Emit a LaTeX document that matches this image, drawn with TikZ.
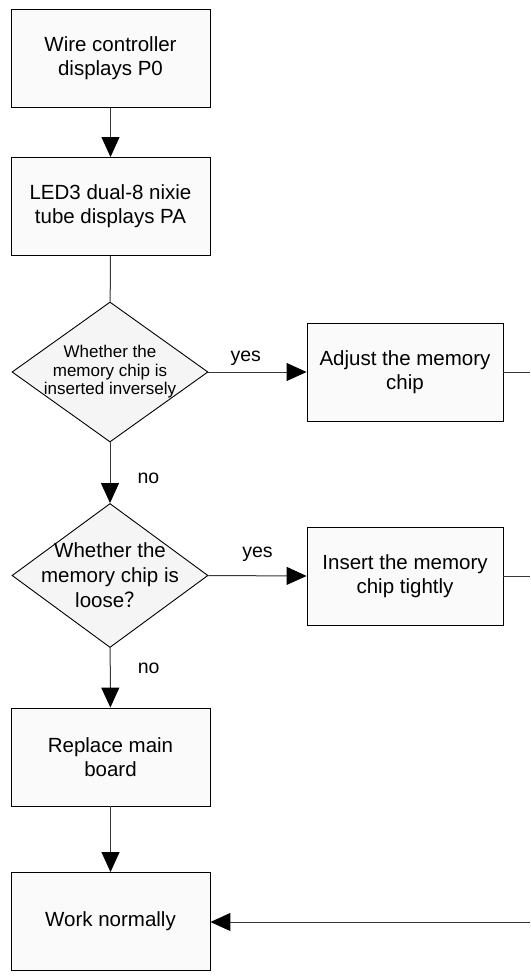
\documentclass[tikz,border=0pt]{standalone}
\usepackage{fontspec}
\setmainfont{Liberation Sans}
\newfontfamily\cjk{Noto Sans CJK SC}
\usetikzlibrary{arrows.meta, shapes.geometric, positioning}
\definecolor{boxfill}{RGB}{250,250,250}
\definecolor{diafill}{RGB}{245,245,245}
\definecolor{linegray}{RGB}{55,55,55}

\begin{document}
\begin{tikzpicture}[x=1pt, y=-1pt,
  stepbox/.style={rectangle, draw=black, fill=boxfill, line width=0.9pt,
                  minimum width=199pt, minimum height=98pt, inner sep=0pt,
                  align=center, font=\fontsize{20.5}{24}\selectfont},
  sidebox/.style={stepbox, minimum width=196pt},
  decision/.style={diamond, draw=black, fill=diafill, line width=0.9pt,
                   minimum width=196pt, minimum height=#1, inner sep=0pt},
  dtext/.style={align=center, inner sep=0pt},
  arr/.style={-{Triangle[length=20pt, width=18pt, color=black]}, line width=1pt, draw=linegray},
  ln/.style={line width=1pt, draw=linegray},
  lbl/.style={font=\fontsize{19.5}{22}\selectfont, inner sep=0pt}
]
\useasboundingbox (0,0) rectangle (530,979);

% ---- main column ----
\node[stepbox] (wire) at (110.5, 58.5) {Wire controller\\displays P0};
\node[stepbox] (led)  at (110.5, 206.5) {LED3 dual-8 nixie\\tube displays PA};
\node[decision=140pt] (inv) at (110, 372) {};
\node[dtext, font=\fontsize{17}{18.5}\selectfont] (invtxt) at (inv)
  {Whether the\\memory chip is\\inserted inversely};
\node[decision=144pt] (loose) at (110, 575.5) {};
\node[dtext, font=\fontsize{20.5}{25}\selectfont] (loosetxt) at (loose)
  {Whether the\\memory chip is\\loose{\cjk ？}};
\node[stepbox] (repl) at (110.5, 757) {Replace main\\board};
\node[stepbox] (work) at (110.5, 921.5) {Work normally};

% ---- right column ----
\node[sidebox] (adjust) at (405, 372) {Adjust the memory\\chip};
\node[sidebox] (insert) at (405, 576) {Insert the memory\\chip tightly};

% ---- loose ends at the right edge ----
\coordinate (adjout) at (530, 372);
\coordinate (insout) at (530, 576);
\coordinate (back)   at (530, 922);

% ---- connectors ----
\draw[arr] (wire) -- (led);
\draw[ln]  (led) -- (inv);
\draw[arr] (inv.east) -- (adjust.west) node[lbl, pos=0.38, above=6pt] (yes1) {yes};
\draw[arr] (inv) -- (loose) node[lbl, pos=0.6, right=27pt] (no1) {no};
\draw[arr] (loose.east) -- (insert.west) node[lbl, pos=0.5, above=14pt] (yes2) {yes};
\draw[arr] (loose) -- (repl) node[lbl, pos=0.35, right=27pt] (no2) {no};
\draw[arr] (repl) -- (work);
\draw[ln]  (adjust) -- (adjout);
\draw[ln]  (insert) -- (insout);
\draw[arr] (back) -- (work.east |- back);

\end{tikzpicture}
\end{document}
